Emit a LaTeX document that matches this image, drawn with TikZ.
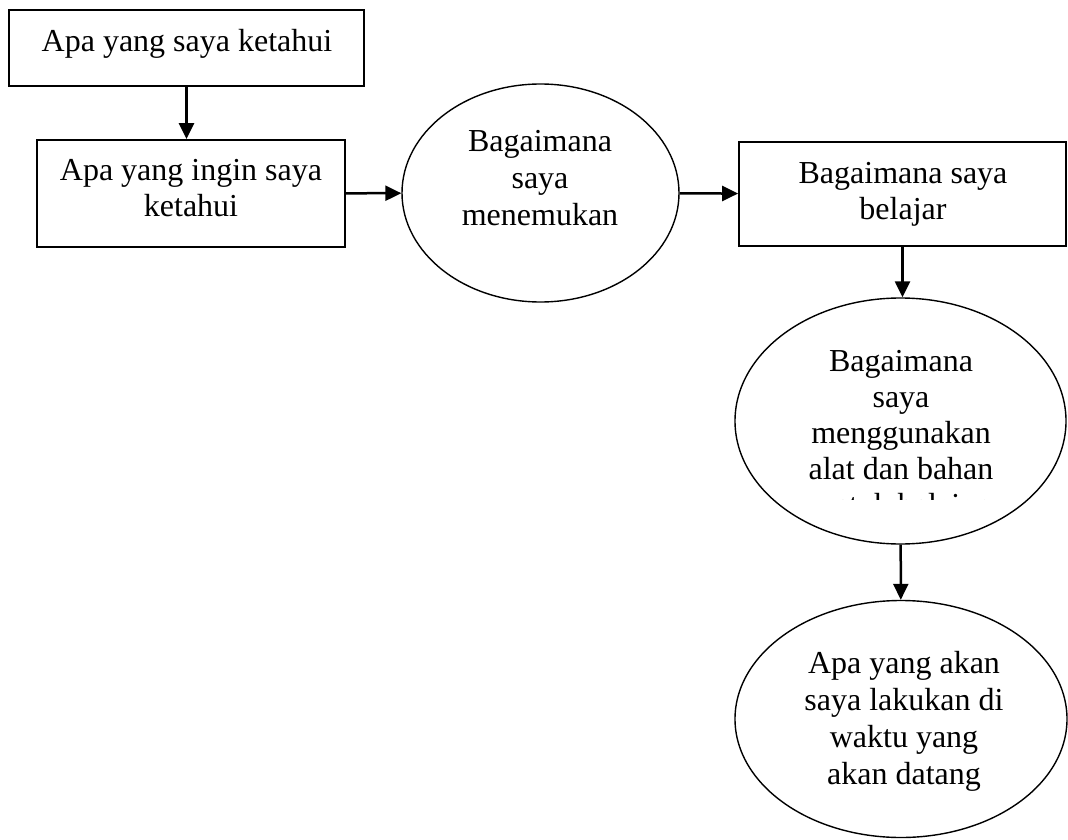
\documentclass[tikz,border=0pt]{standalone}
\usepackage{fontspec}
\setmainfont{Liberation Serif}
\usetikzlibrary{arrows.meta,shapes.geometric}
\begin{document}
\begin{tikzpicture}[x=1pt,y=-1pt,
  box/.style={draw,line width=1.8pt,rectangle,inner sep=0pt},
  oval/.style={draw,line width=1.4pt,ellipse,inner sep=0pt},
  lbl/.style={anchor=base,inner sep=0pt,font=\fontsize{32}{36}\selectfont},
  arr/.style={line width=2.5pt,-{Triangle[width=15pt,length=16pt]}}]
\useasboundingbox (0,0) rectangle (1068,840);
% shapes
\node[box,minimum width=355pt,minimum height=76pt] (b1) at (186.5,48) {};
\node[box,minimum width=308pt,minimum height=107pt] (b2) at (191,193.5) {};
\node[box,minimum width=327pt,minimum height=104pt] (b3) at (902.5,194) {};
\node[oval,minimum width=277pt,minimum height=218pt] (e1) at (540.5,193) {};
\node[oval,minimum width=331pt,minimum height=246pt] (e2) at (900.5,421) {};
\node[oval,minimum width=332pt,minimum height=237pt] (e3) at (901,719) {};
% texts
\node[lbl] (t1) at (187,52) {Apa yang saya ketahui};
\node[lbl] (t2a) at (191,180) {Apa yang ingin saya};
\node[lbl] (t2b) at (191,216) {ketahui};
\node[lbl] (t3a) at (903,183) {Bagaimana saya};
\node[lbl] (t3b) at (903,219) {belajar};
\node[lbl] (s1a) at (540,152) {Bagaimana};
\node[lbl] (s1b) at (540,188.5) {saya};
\node[lbl] (s1c) at (540,225) {menemukan};
\node[lbl] (s2a) at (901,371) {Bagaimana};
\node[lbl] (s2b) at (901,407) {saya};
\node[lbl] (s2c) at (901,443) {menggunakan};
\node[lbl] (s2d) at (901,479) {alat dan bahan};
\begin{scope}
  \clip (735,298) rectangle (1068,499);
  \node[lbl] (s2e) at (901,515) {untuk belajar};
\end{scope}
\node[lbl] (s3a) at (904,673) {Apa yang akan};
\node[lbl] (s3b) at (904,710) {saya lakukan di};
\node[lbl] (s3c) at (904,747) {waktu yang};
\node[lbl] (s3d) at (904,784) {akan datang};
% connectors
\draw[arr] (b1) -- (b1 |- b2.north);
\draw[arr] (b2) -- (e1);
\draw[arr] (e1) -- (b3);
\draw[arr] (b3) -- (b3 |- e2.north);
\draw[arr] (e2) -- (e3);
\end{tikzpicture}
\end{document}
